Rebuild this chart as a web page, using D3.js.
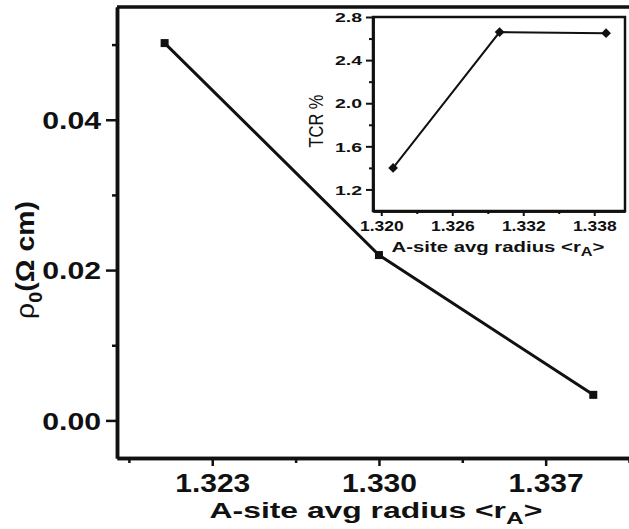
<!DOCTYPE html>
<html lang="en">
<head>
    <meta charset="UTF-8">
    <title>rho0 and TCR vs A-site radius</title>
    <script src="https://d3js.org/d3.v7.min.js"></script>
    <style>
        body { margin: 0; background: #fff; }
        text { font-family: "Liberation Sans", Arial, sans-serif; fill: #111; }
    </style>
</head>
<body>
    <div id="plot"></div>

    <script>
        // main panel: residual resistivity
        let radius = [1.321, 1.330, 1.339];
        let rho0 = [0.0502, 0.0220, 0.0034];
        let mainXTicks = [1.323, 1.330, 1.337];
        let mainXMinor = [1.3195, 1.3265, 1.3335, 1.3405];
        let mainYTicks = [0.00, 0.02, 0.04];
        let mainYMinor = [0.01, 0.03, 0.05];

        // inset: TCR %
        let tcr = [1.40, 2.66, 2.65];
        let insetXTicks = [1.320, 1.326, 1.332, 1.338];
        let insetXMinor = [1.323, 1.329, 1.335];
        let insetYTicks = [1.2, 1.6, 2.0, 2.4, 2.8];
        let insetYMinor = [1.4, 1.8, 2.2, 2.6];

        function translate(x, y){
            return 'translate(' + x + ', ' + y + ')';
        }

        let svgWidth = 629, svgHeight = 529;
        let svg = d3.select('#plot')
                    .append('svg')
                        .attr('width', svgWidth)
                        .attr('height', svgHeight);

        svg.append('rect').attr('width', svgWidth).attr('height', svgHeight).attr('fill', '#fff');

        // squash / stretch a text so it fills a given width (the figure was scaled unevenly)
        function fitText(t, cx, cy, w, rot){
            let len = t.node().getComputedTextLength();
            let s = w / len;
            if (rot) {
                t.attr('transform', translate(cx, cy) + ' scale(' + rot + ',1) rotate(-90) scale(' + s + ',1)');
            } else {
                t.attr('transform', translate(cx, cy) + ' scale(' + s + ',1)');
            }
        }

        // ---------- main plot ----------
        let m = {left: 117, top: 7, right: 634, bottom: 458};
        let x = d3.scaleLinear().domain([1.319, 1.3405]).range([m.left, 629]);
        let y = d3.scaleLinear().domain([-0.005, 0.055]).range([m.bottom, m.top]);

        let main = svg.append('g');

        // top + right frame
        main.append('path')
            .attr('d', 'M' + m.left + ',' + m.top + 'H' + m.right + 'V' + m.bottom)
            .attr('fill', 'none').attr('stroke', '#111').attr('stroke-width', 3.5);

        let xAxis = main.append('g').attr('transform', translate(0, m.bottom))
            .call(d3.axisBottom(x).tickValues(mainXTicks).tickFormat(d3.format('.3f'))
                .tickSize(8).tickSizeOuter(0).tickPadding(8));
        main.append('g').attr('transform', translate(0, m.bottom))
            .call(d3.axisBottom(x).tickValues(mainXMinor).tickFormat('').tickSize(5).tickSizeOuter(0));

        let yAxis = main.append('g').attr('transform', translate(m.left, 0))
            .call(d3.axisLeft(y).tickValues(mainYTicks).tickFormat(d3.format('.2f')).tickSize(11).tickSizeOuter(0));
        main.append('g').attr('transform', translate(m.left, 0))
            .call(d3.axisLeft(y).tickValues(mainYMinor).tickFormat('').tickSize(5).tickSizeOuter(0));

        main.selectAll('.domain').attr('stroke', '#111').attr('stroke-width', 3.5);
        main.selectAll('.tick line').attr('stroke', '#111').attr('stroke-width', 2.5);

        xAxis.selectAll('text')
            .style('font-size', '25px').style('font-weight', 'bold')
            .attr('transform', 'scale(1.2,1)');
        yAxis.selectAll('text')
            .style('font-size', '24px').style('font-weight', 'bold')
            .attr('x', -16 / 1.26).attr('dy', '0.36em')
            .attr('transform', 'scale(1.26,1)');

        let line = d3.line().x(d => x(d[0])).y(d => y(d[1]));
        let pts = radius.map((r, i) => [r, rho0[i]]);

        main.append('path').datum(pts)
            .attr('d', line).attr('fill', 'none')
            .attr('stroke', '#111').attr('stroke-width', 3);

        main.selectAll('.sq').data(pts).enter()
            .append('rect').attr('class', 'sq')
            .attr('x', d => x(d[0]) - 4).attr('y', d => y(d[1]) - 4)
            .attr('width', 8).attr('height', 8).attr('fill', '#111');

        let xTitle = main.append('text')
            .attr('text-anchor', 'middle')
            .style('font-size', '22px').style('font-weight', 'bold');
        xTitle.append('tspan').text('A-site avg radius <r');
        xTitle.append('tspan').attr('dy', 6).style('font-size', '17px').text('A');
        xTitle.append('tspan').attr('dy', -6).text('>');
        fitText(xTitle, 376, 518, 333);

        let yTitle = main.append('text')
            .attr('text-anchor', 'middle')
            .style('font-size', '20px').style('font-weight', 'bold');
        yTitle.append('tspan').style('font-weight', 'normal').text('\u03c1');
        yTitle.append('tspan').attr('dy', 6).style('font-size', '14px').text('0');
        yTitle.append('tspan').attr('dy', -6).text('(\u03a9 cm)');
        fitText(yTitle, 34, 260, 118, 1.25);

        // ---------- inset ----------
        let b = {left: 373, top: 17, right: 625, bottom: 211};
        let xi = d3.scaleLinear().domain([1.3193, 1.3406]).range([b.left, b.right]);
        let yi = d3.scaleLinear().domain([1.0, 2.8]).range([b.bottom, b.top]);

        let inset = svg.append('g');
        inset.append('rect')
            .attr('x', b.left).attr('y', b.top)
            .attr('width', b.right - b.left).attr('height', b.bottom - b.top)
            .attr('fill', '#fff').attr('stroke', '#111').attr('stroke-width', 2.5);

        let xiAxis = inset.append('g').attr('transform', translate(0, b.bottom))
            .call(d3.axisBottom(xi).tickValues(insetXTicks).tickFormat(d3.format('.3f'))
                .tickSize(5).tickSizeOuter(0).tickPadding(5));
        inset.append('g').attr('transform', translate(0, b.bottom))
            .call(d3.axisBottom(xi).tickValues(insetXMinor).tickFormat('').tickSize(3).tickSizeOuter(0));
        let yiAxis = inset.append('g').attr('transform', translate(b.left, 0))
            .call(d3.axisLeft(yi).tickValues(insetYTicks).tickFormat(d3.format('.1f')).tickSize(7).tickSizeOuter(0));
        inset.append('g').attr('transform', translate(b.left, 0))
            .call(d3.axisLeft(yi).tickValues(insetYMinor).tickFormat('').tickSize(4).tickSizeOuter(0));

        inset.selectAll('.domain').attr('stroke', '#111').attr('stroke-width', 2.5);
        inset.selectAll('.tick line').attr('stroke', '#111').attr('stroke-width', 2);

        xiAxis.selectAll('text')
            .style('font-size', '14px').style('font-weight', 'bold')
            .attr('transform', 'scale(1.25,1)');
        yiAxis.selectAll('text')
            .style('font-size', '13px').style('font-weight', 'bold')
            .attr('x', -11 / 1.5).attr('dy', '0.36em')
            .attr('transform', 'scale(1.5,1)');

        let ipts = radius.map((r, i) => [r, tcr[i]]);
        let iline = d3.line().x(d => xi(d[0])).y(d => yi(d[1]));

        inset.append('path').datum(ipts)
            .attr('d', iline).attr('fill', 'none')
            .attr('stroke', '#111').attr('stroke-width', 2);

        inset.selectAll('.dia').data(ipts).enter()
            .append('path').attr('class', 'dia')
            .attr('d', d3.symbol(d3.symbolDiamond2, 60))
            .attr('transform', d => translate(xi(d[0]), yi(d[1])))
            .attr('fill', '#111');

        let xiTitle = inset.append('text')
            .attr('text-anchor', 'middle')
            .style('font-size', '15px').style('font-weight', 'bold');
        xiTitle.append('tspan').text('A-site avg radius <r');
        xiTitle.append('tspan').attr('dy', 4).style('font-size', '12px').text('A');
        xiTitle.append('tspan').attr('dy', -4).text('>');
        fitText(xiTitle, 498, 252, 213);

        let yiTitle = inset.append('text')
            .attr('text-anchor', 'middle')
            .style('font-size', '16px')
            .text('TCR %');
        fitText(yiTitle, 323, 121, 53, 1.3);
    </script>
</body>
</html>
